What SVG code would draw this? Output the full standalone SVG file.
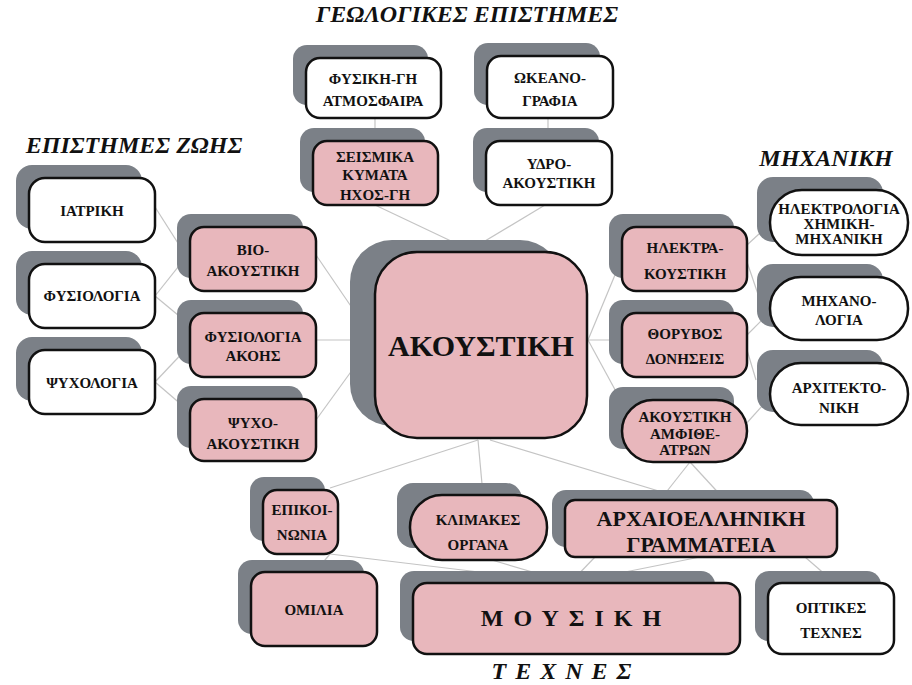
<svg xmlns="http://www.w3.org/2000/svg" width="912" height="685" viewBox="0 0 912 685">
<style>
.sh{fill:#7b8087}
.p{fill:#e8b7bc;stroke:#111;stroke-width:2.5}
.w{fill:#fff;stroke:#111;stroke-width:2.5}
text{font-family:"Liberation Serif","Times New Roman",Times,serif;font-weight:700;fill:#111;text-anchor:middle}
.t{font-size:15px}
.ti{font-size:24px;font-style:italic}
#conn line{stroke:#c4c4c4;stroke-width:1.2}
</style>
<rect width="912" height="685" fill="#fff"/>
<text class="ti" x="467" y="22">ΓΕΩΛΟΓΙΚΕΣ ΕΠΙΣΤΗΜΕΣ</text>
<text class="ti" x="134" y="153">ΕΠΙΣΤΗΜΕΣ ΖΩΗΣ</text>
<text class="ti" x="826" y="166">ΜΗΧΑΝΙΚΗ</text>
<text class="ti" x="566" y="679" letter-spacing="9">ΤΕΧΝΕΣ</text>
<g id="conn">
<line x1="375" y1="118" x2="375" y2="141"/><line x1="548" y1="118" x2="548" y2="141"/>
<line x1="375" y1="205" x2="470" y2="250"/><line x1="545" y1="205" x2="470" y2="250"/>
<line x1="316" y1="255" x2="374" y2="340"/><line x1="316" y1="340" x2="374" y2="340"/><line x1="316" y1="420" x2="374" y2="340"/>
<line x1="155" y1="207" x2="190" y2="262"/><line x1="155" y1="296" x2="190" y2="252"/><line x1="155" y1="296" x2="190" y2="325"/>
<line x1="155" y1="382" x2="190" y2="345"/><line x1="155" y1="382" x2="190" y2="412"/>
<line x1="588" y1="340" x2="622" y2="258"/><line x1="588" y1="340" x2="622" y2="340"/><line x1="588" y1="340" x2="625" y2="408"/>
<line x1="747" y1="245" x2="772" y2="222"/><line x1="747" y1="262" x2="760" y2="300"/><line x1="747" y1="335" x2="772" y2="310"/>
<line x1="747" y1="350" x2="756" y2="380"/><line x1="745" y1="425" x2="772" y2="395"/>
<line x1="478" y1="440" x2="330" y2="488"/><line x1="478" y1="440" x2="483" y2="495"/><line x1="490" y1="440" x2="695" y2="502"/>
<line x1="690" y1="462" x2="660" y2="500"/><line x1="690" y1="462" x2="725" y2="500"/>
<line x1="330" y1="554" x2="315" y2="572"/><line x1="330" y1="554" x2="570" y2="583"/><line x1="485" y1="558" x2="570" y2="583"/>
<line x1="595" y1="557" x2="570" y2="583"/><line x1="700" y1="557" x2="570" y2="583"/><line x1="805" y1="557" x2="835" y2="583"/>
</g>
<g id="n1"><rect class="sh" x="293" y="45" width="135" height="60" rx="14"/><rect class="w" x="306" y="58" width="135" height="60" rx="14"/><text class="t" x="373" y="84" font-size="16">ΦΥΣΙΚΗ-ΓΗ</text><text class="t" x="373" y="106" font-size="13">ΑΤΜΟΣΦΑΙΡΑ</text></g>
<g id="n2"><rect class="sh" x="474" y="43" width="126" height="62" rx="14"/><rect class="w" x="487" y="56" width="126" height="62" rx="14"/><text class="t" x="550" y="83" font-size="17">ΩΚΕΑΝΟ-</text><text class="t" x="550" y="106" font-size="17">ΓΡΑΦΙΑ</text></g>
<g id="n3"><rect class="sh" x="300" y="128" width="125" height="64" rx="14"/><rect class="p" x="313" y="141" width="125" height="64" rx="14"/><text class="t" x="375" y="162" font-size="14">ΣΕΙΣΜΙΚΑ</text><text class="t" x="375" y="180" font-size="14">ΚΥΜΑΤΑ</text><text class="t" x="375" y="200" font-size="17">ΗΧΟΣ-ΓΗ</text></g>
<g id="n4"><rect class="sh" x="473" y="128" width="126" height="64" rx="14"/><rect class="w" x="486" y="141" width="126" height="64" rx="14"/><text class="t" x="549" y="169">ΥΔΡΟ-</text><text class="t" x="549" y="188">ΑΚΟΥΣΤΙΚΗ</text></g>
<g id="n5"><rect class="sh" x="16" y="165" width="126" height="64" rx="16"/><rect class="w" x="29" y="178" width="126" height="64" rx="16"/><text class="t" x="92" y="216" font-size="16">ΙΑΤΡΙΚΗ</text></g>
<g id="n6"><rect class="sh" x="16" y="251" width="126" height="64" rx="16"/><rect class="w" x="29" y="264" width="126" height="64" rx="16"/><text class="t" x="92" y="301" font-size="13">ΦΥΣΙΟΛΟΓΙΑ</text></g>
<g id="n7"><rect class="sh" x="16" y="337" width="126" height="64" rx="16"/><rect class="w" x="29" y="350" width="126" height="64" rx="16"/><text class="t" x="92" y="388" font-size="15">ΨΥΧΟΛΟΓΙΑ</text></g>
<g id="n8"><rect class="sh" x="177" y="214" width="126" height="64" rx="14"/><rect class="p" x="190" y="227" width="126" height="64" rx="14"/><text class="t" x="253" y="255">ΒΙΟ-</text><text class="t" x="253" y="276">ΑΚΟΥΣΤΙΚΗ</text></g>
<g id="n9"><rect class="sh" x="177" y="300" width="126" height="64" rx="14"/><rect class="p" x="190" y="313" width="126" height="64" rx="14"/><text class="t" x="253" y="342">ΦΥΣΙΟΛΟΓΙΑ</text><text class="t" x="253" y="361">ΑΚΟΗΣ</text></g>
<g id="n10"><rect class="sh" x="177" y="386" width="126" height="62" rx="14"/><rect class="p" x="190" y="399" width="126" height="62" rx="14"/><text class="t" x="253" y="428">ΨΥΧΟ-</text><text class="t" x="253" y="449">ΑΚΟΥΣΤΙΚΗ</text></g>
<g id="n11"><rect class="sh" x="350" y="240" width="212" height="186" rx="42"/><rect class="p" x="375" y="252" width="212" height="186" rx="42"/><text x="481" y="356" font-size="30">ΑΚΟΥΣΤΙΚΗ</text></g>
<g id="n12"><rect class="sh" x="609" y="214" width="125" height="64" rx="14"/><rect class="p" x="622" y="227" width="125" height="64" rx="14"/><text class="t" x="685" y="253">ΗΛΕΚΤΡΑ-</text><text class="t" x="685" y="279">ΚΟΥΣΤΙΚΗ</text></g>
<g id="n13"><rect class="sh" x="609" y="300" width="125" height="64" rx="14"/><rect class="p" x="622" y="313" width="125" height="64" rx="14"/><text class="t" x="685" y="339">ΘΟΡΥΒΟΣ</text><text class="t" x="685" y="364">ΔΟΝΗΣΕΙΣ</text></g>
<g id="n14"><rect class="sh" x="609" y="387" width="125" height="62" rx="14"/><rect class="p" x="622" y="400" width="125" height="62" rx="31"/><text class="t" x="685" y="422" font-size="13">ΑΚΟΥΣΤΙΚΗ</text><text class="t" x="685" y="439" font-size="13">ΑΜΦΙΘΕ-</text><text class="t" x="685" y="455" font-size="13">ΑΤΡΩΝ</text></g>
<g id="n15"><rect class="sh" x="757" y="177" width="126" height="65" rx="16"/><rect class="w" x="770" y="190" width="138" height="65" rx="32"/><text class="t" x="839" y="214" font-size="11">ΗΛΕΚΤΡΟΛΟΓΙΑ</text><text class="t" x="839" y="229" font-size="12">ΧΗΜΙΚΗ-</text><text class="t" x="839" y="244" font-size="12">ΜΗΧΑΝΙΚΗ</text></g>
<g id="n16"><rect class="sh" x="757" y="264" width="126" height="63" rx="16"/><rect class="w" x="770" y="277" width="138" height="63" rx="31"/><text class="t" x="839" y="306" font-size="14">ΜΗΧΑΝΟ-</text><text class="t" x="839" y="325" font-size="14">ΛΟΓΙΑ</text></g>
<g id="n17"><rect class="sh" x="757" y="350" width="126" height="62" rx="16"/><rect class="w" x="770" y="363" width="138" height="62" rx="31"/><text class="t" x="839" y="393" font-size="14">ΑΡΧΙΤΕΚΤΟ-</text><text class="t" x="839" y="413" font-size="14">ΝΙΚΗ</text></g>
<g id="n18"><rect class="sh" x="250" y="477" width="75" height="64" rx="14"/><rect class="p" x="263" y="490" width="75" height="64" rx="14"/><text class="t" x="302" y="515" font-size="14">ΕΠΙΚΟΙ-</text><text class="t" x="302" y="540" font-size="14">ΝΩΝΙΑ</text></g>
<g id="n19"><rect class="sh" x="397" y="483" width="125" height="65" rx="16"/><rect class="p" x="410" y="495" width="137" height="65" rx="32"/><text class="t" x="478" y="525">ΚΛΙΜΑΚΕΣ</text><text class="t" x="478" y="550">ΟΡΓΑΝΑ</text></g>
<g id="n20"><rect class="sh" x="552" y="490" width="262" height="57" rx="14"/><rect class="p" x="565" y="500" width="272" height="57" rx="10"/><text x="701" y="526" font-size="22">ΑΡΧΑΙΟΕΛΛΗΝΙΚΗ</text><text x="701" y="552" font-size="22">ΓΡΑΜΜΑΤΕΙΑ</text></g>
<g id="n21"><rect class="sh" x="238" y="560" width="126" height="74" rx="14"/><rect class="p" x="251" y="572" width="126" height="74" rx="14"/><text class="t" x="314" y="615">ΟΜΙΛΙΑ</text></g>
<g id="n22"><rect class="sh" x="400" y="571" width="315" height="70" rx="14"/><rect class="p" x="413" y="583" width="327" height="71" rx="14"/><text x="576" y="626" font-size="24" letter-spacing="10">ΜΟΥΣΙΚΗ</text></g>
<g id="n23"><rect class="sh" x="755" y="571" width="126" height="70" rx="14"/><rect class="w" x="768" y="583" width="126" height="71" rx="14"/><text class="t" x="831" y="613">ΟΠΤΙΚΕΣ</text><text class="t" x="831" y="638">ΤΕΧΝΕΣ</text></g>
</svg>
